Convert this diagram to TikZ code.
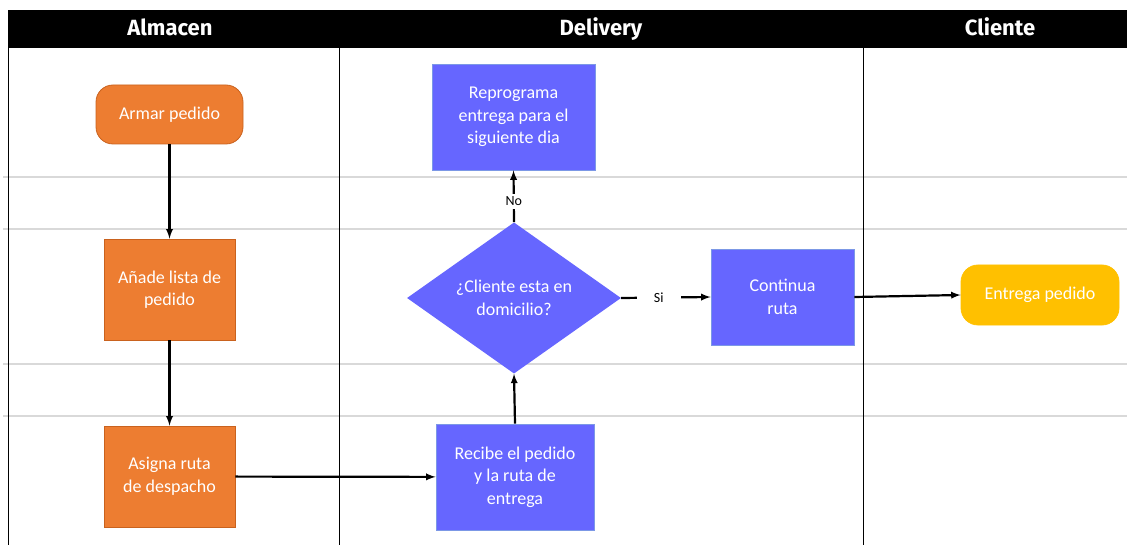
\documentclass[tikz,border=0pt]{standalone}
\usepackage{fontspec}
\setmainfont{Carlito}
\newfontfamily\headfont{Fira Sans}
\usepackage{xcolor}
\usepackage{tikz}
\usetikzlibrary{shapes.geometric}
\usetikzlibrary{arrows}
\definecolor{almacenor}{HTML}{ED7D31}
\definecolor{almacenbd}{HTML}{C9621E}
\definecolor{deliverybl}{HTML}{6666FF}
\definecolor{deliverybd}{HTML}{7C98E6}
\definecolor{clienteyl}{HTML}{FFC000}
\definecolor{lanegray}{HTML}{D9D9D9}
\tikzset{
	txt/.style={text=white,font=\fontsize{18}{22.5}\selectfont,align=center},
	orangebox/.style={txt,rectangle,fill=almacenor,draw=almacenbd,line width=0.8pt,minimum width=131,minimum height=101,inner sep=0},
	bluebox/.style={txt,rectangle,fill=deliverybl,draw=deliverybd,line width=0.8pt,inner sep=0},
	startend/.style={txt,rectangle,rounded corners=17pt,line width=0.8pt,inner sep=0},
	decision/.style={txt,diamond,fill=deliverybl,inner sep=0,minimum width=214,minimum height=150},
	flow/.style={line width=2.2pt,-latex},
	lbl/.style={fill=white,text=black,font=\fontsize{14}{16}\selectfont},
	lanetitle/.style={anchor=base,text=white,font=\headfont\bfseries\fontsize{22}{24}\selectfont}
}
\begin{document}
\begin{tikzpicture}[x=1pt,y=-1pt]
	\useasboundingbox (0,0) rectangle (1127,545);
	% swimlanes
	\foreach \yy in {177,229,364,416}
		\draw[lanegray,line width=1.5pt] (3,\yy)--(1127,\yy);
	\foreach \xx in {8,339,863}
		\draw[line width=0.9pt] (\xx,48)--(\xx,545);
	\fill[black] (8,10) rectangle (1127,48);
	\node[lanetitle] (tAlm) at (170,36) {Almacen};
	\node[lanetitle] (tDel) at (601,36) {Delivery};
	\node[lanetitle] (tCli) at (1000,36) {Cliente};
	% almacen
	\node[startend,fill=almacenor,draw=almacenbd,minimum width=147,minimum height=59] (armar) at (169.5,114.5) {Armar pedido};
	\node[orangebox] (anade) at (169.5,289.5) {A\~nade lista de\\pedido};
	\node[orangebox] (asigna) at (169.5,476.5) {Asigna ruta\\de despacho};
	% delivery
	\node[bluebox,minimum width=163,minimum height=106] (repro) at (513.5,117) {Reprograma\\entrega para el\\siguiente dia};
	\node[decision] (cliente) at (514,298) {¿Cliente esta en\\domicilio?};
	\node[bluebox,minimum width=143,minimum height=96] (continua) at (782.5,297) {Continua\\ruta};
	\node[bluebox,minimum width=158,minimum height=106] (recibe) at (515,477) {Recibe el pedido\\y la ruta de\\entrega};
	% cliente
	\node[startend,fill=clienteyl,draw=clienteyl,minimum width=158,minimum height=60] (entrega) at (1040,295) {Entrega pedido};
	% flujo
	\draw[flow] (armar)--(anade);
	\draw[flow] (anade)--(asigna);
	\draw[flow] (asigna)--(recibe);
	\draw[flow] (recibe.north)--(cliente.south);
	\draw[flow] (cliente.north)--node[lbl,pos=0.4,inner xsep=2pt,inner ysep=3pt] (no) {No} (repro.south);
	\draw[flow] (cliente.east)--node[lbl,pos=0.42,inner xsep=17pt,inner ysep=2pt] (si) {Si} (continua.west);
	\draw[flow] (continua.east)--(entrega.west);
\end{tikzpicture}
\end{document}
